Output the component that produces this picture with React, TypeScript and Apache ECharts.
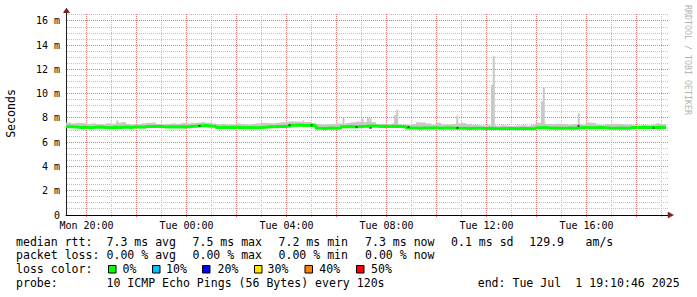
import React, { useEffect, useRef } from "react";
import * as echarts from "echarts";

// ---- time frame (hours of day, Mon 19:10:46 -> Tue 19:10:46) ----
const START_HOUR = 19 + 10 / 60 + 46 / 3600;
const END_HOUR = START_HOUR + 24;
const SAMPLE_HOURS = 0.2; // 12-minute samples

// median rtt per sample (ms)
const medianMs = [
  7.28, 7.25,
  7.22, 7.24, 7.20, 7.23, 7.26, 7.22, 7.20, 7.24, 7.21, 7.25, 7.22,
  7.25, 7.26, 7.24,
  7.30, 7.29, 7.31,
  7.26, 7.28, 7.25, 7.27, 7.26, 7.29,
  7.32, 7.35, 7.38, 7.34, 7.30,
  7.22, 7.24, 7.21, 7.23, 7.22,
  7.20, 7.22, 7.19, 7.21, 7.24,
  7.28, 7.27, 7.29, 7.30, 7.33,
  7.40, 7.42, 7.38, 7.41, 7.36,
  7.16, 7.14, 7.17, 7.15, 7.18,
  7.27, 7.29, 7.26, 7.30, 7.31,
  7.34, 7.33,
  7.30, 7.31, 7.29, 7.32, 7.30, 7.28,
  7.18, 7.17, 7.16, 7.18, 7.17, 7.19, 7.16, 7.17, 7.18, 7.16,
  7.15, 7.16, 7.14, 7.15, 7.16, 7.14, 7.15,
  7.13, 7.12, 7.14, 7.13, 7.12, 7.13, 7.14, 7.12, 7.14,
  7.20, 7.21,
  7.16, 7.17, 7.15, 7.16, 7.17, 7.16,
  7.20, 7.21, 7.19, 7.20, 7.22, 7.20,
  7.16, 7.15, 7.17, 7.16, 7.15,
  7.22, 7.21, 7.23, 7.22, 7.21, 7.23, 7.22,
];

// top of the smoke (max ping) per sample (ms)
const smokeTopMs = [
  7.62, 7.55, 7.60, 7.58, 7.50, 7.55,
  7.50, 7.45, 7.55, 7.52, 7.60, 7.65,
  7.50, 7.45, 7.48, 7.55, 7.60, 7.62,
  7.50, 7.45, 7.50, 7.55, 7.52, 7.58,
  7.55, 7.60, 7.62, 7.65, 7.60, 7.55,
  7.50, 7.52, 7.45, 7.48, 7.55, 7.50,
  7.45, 7.50, 7.55, 7.60, 7.58, 7.55,
  7.60, 7.65, 7.70, 7.72, 7.70, 7.65,
  7.68, 7.60, 7.50, 7.45, 7.48, 7.50,
  7.55, 7.50, 7.60, 7.65, 7.70, 7.65,
  7.70, 7.65,
  7.50, 7.52, 7.48, 7.55, 7.50, 7.45,
  7.45, 7.50, 7.65, 7.62, 7.55, 7.45, 7.60, 7.45, 7.47, 7.50,
  7.55, 7.58, 7.50, 7.42, 7.40, 7.38, 7.40,
  7.38, 7.36, 7.40, 7.37, 7.35, 7.38, 7.40, 7.36, 7.45,
  7.60, 7.55,
  7.50, 7.48, 7.52, 7.50, 7.45, 7.50,
  7.48, 7.45, 7.62, 7.60, 7.45, 7.42,
  7.50, 7.52, 7.50, 7.48, 7.45,
  7.42, 7.40, 7.43, 7.40, 7.45, 7.55, 7.50,
];

// narrow smoke spikes (hour, top ms)
const spikeHours = [21.23, 28.2, 28.67, 30.28, 31.04, 31.26, 31.36, 32.34, 32.4, 32.43, 34.83, 36.22, 36.26, 36.29, 38.22, 38.26, 38.29, 39.69];
const spikeTopMs = [7.8, 7.72, 7.8, 8.0, 7.95, 8.0, 8.0, 8.22, 8.22, 8.69, 8.2, 10.72, 10.72, 13.1, 9.35, 9.35, 10.5, 8.39];

// dark smoke specks (hour, ms)
const darkHours = [24.52, 28.12, 29.0, 30.8, 31.36, 32.88, 34.84, 39.68, 42.68];
const darkMs = [7.34, 7.42, 7.4, 7.26, 7.18, 7.26, 7.18, 7.35, 7.18];

// axes
const xTickHours = [20, 24, 28, 32, 36, 40];
const xTickLabels = ["Mon 20:00", "Tue 00:00", "Tue 04:00", "Tue 08:00", "Tue 12:00", "Tue 16:00"];
const yTickValues = [0, 2, 4, 6, 8, 10, 12, 14, 16];
const yTickLabels = ["0", "2 m", "4 m", "6 m", "8 m", "10 m", "12 m", "14 m", "16 m"];
const Y_MAX = 16.74;
const X_AXIS_MAX = END_HOUR + 0.08;
const GRID_TOP_MS = 16.63;
const GRID_RIGHT_HOUR = END_HOUR + 0.1;

// legend texts
const rttLabel = "median rtt:";
const rttItems = ["7.3 ms avg", "7.5 ms max", "7.2 ms min", "7.3 ms now", "0.1 ms sd", "129.9", "am/s"];
const lossLabel = "packet loss:";
const lossItems = ["0.00 % avg", "0.00 % max", "0.00 % min", "0.00 % now"];
const colorLabel = "loss color:";
const lossPercents = ["0%", "10%", "20%", "30%", "40%", "50%"];
const probeLabel = "probe:";
const probeText = "10 ICMP Echo Pings (56 Bytes) every 120s";
const endText = ["end: Tue Jul", "1 19:10:46 2025"];
const watermark = "RRDTOOL / TOBI OETIKER";

// styles / layout
const LOSS_COLORS = ["#00ff00", "#00bfff", "#0000ff", "#ffe600", "#ff8000", "#ff0000"];
const MONO = '"DejaVu Sans Mono", monospace';
const LEG_FONT = `11.55px ${MONO}`;
const RTT_X = [106.5, 192.5, 278.5, 365, 451, 529.3, 585.5];
const LOSS_X = [106.5, 192.5, 278.5, 365];
const BOX_X = [108.5, 152.5, 202.5, 254.5, 305, 356.5];
const PCT_X = [122.6, 166, 217.6, 267.6, 319.3, 371];
const LINE_Y = [241.5, 255.2, 269, 282.8];
const MINOR_COLOR = "#c2c2c2";
const MAJOR_COLOR = "#e87878";
const ARROW_COLOR = "#7f1f1f";

export default function App() {
  const ref = useRef<HTMLDivElement>(null);
  useEffect(() => {
    if (!ref.current) return;
    const chart = echarts.init(ref.current, undefined, { renderer: "svg" });

    const smokeData = medianMs.map((m, i) => [START_HOUR + i * SAMPLE_HOURS, m, smokeTopMs[i]]);
    const lineData = medianMs.map((m, i) => [START_HOUR + i * SAMPLE_HOURS, m]);
    lineData.push([END_HOUR, medianMs[medianMs.length - 1]]);
    const spikeData = spikeHours.map((h, i) => [h, spikeTopMs[i]]);
    const darkData = darkHours.map((h, i) => [h, darkMs[i]]);

    chart.setOption({
      animation: false,
      backgroundColor: "#ffffff",
      grid: { left: 66, right: 29, top: 12, bottom: 82, containLabel: false },
      xAxis: {
        type: "value",
        min: START_HOUR,
        max: X_AXIS_MAX,
        splitLine: { show: false },
        axisTick: { show: false },
        axisLine: { show: true, onZero: false, lineStyle: { color: "#000", width: 1 } },
        axisLabel: {
          customValues: xTickHours,
          formatter: (v: number) => {
            const k = xTickHours.indexOf(Math.round(v));
            return k >= 0 ? xTickLabels[k] : "";
          },
          fontFamily: MONO,
          fontSize: 10,
          color: "#000",
          margin: 5,
        },
      },
      yAxis: {
        type: "value",
        min: 0,
        max: Y_MAX,
        interval: 2,
        splitLine: { show: false },
        axisTick: { show: false },
        axisLine: { show: true, onZero: false, lineStyle: { color: "#1f1f1f", width: 1 } },
        axisLabel: {
          customValues: yTickValues,
          formatter: (v: number) => {
            const k = yTickValues.indexOf(Math.round(v * 100) / 100);
            return k >= 0 ? yTickLabels[k] : "";
          },
          fontFamily: MONO,
          fontSize: 10,
          color: "#000",
          margin: 6,
        },
      },
      series: [
        {
          type: "custom",
          name: "smoke",
          silent: true,
          z: 2,
          data: smokeData,
          encode: { x: 0, y: [1, 2] },
          renderItem: (params: any, api: any) => {
            const t = api.value(0);
            const p0 = api.coord([t, api.value(1)]);
            const p1 = api.coord([t + SAMPLE_HOURS, api.value(2)]);
            return {
              type: "rect",
              shape: { x: p0[0], y: p1[1], width: p1[0] - p0[0], height: p0[1] - p1[1] },
              style: { fill: "#c8c8c8" },
            };
          },
        },
        {
          type: "custom",
          name: "spikes",
          silent: true,
          z: 2,
          data: spikeData,
          encode: { x: 0, y: 1 },
          renderItem: (params: any, api: any) => {
            const top = api.coord([api.value(0), api.value(1)]);
            const base = api.coord([api.value(0), 7.2]);
            return {
              type: "rect",
              shape: { x: top[0] - 1, y: top[1], width: 2, height: base[1] - top[1] },
              style: { fill: "#c8c8c8" },
            };
          },
        },
        {
          type: "line",
          name: "median",
          data: lineData,
          step: "end",
          symbol: "none",
          silent: true,
          z: 3,
          lineStyle: { color: "#00ff00", width: 3 },
        },
        {
          type: "scatter",
          name: "dark",
          data: darkData,
          symbol: "rect",
          symbolSize: [2, 2],
          silent: true,
          z: 4,
          itemStyle: { color: "#222" },
        },
      ],
    });

    // everything that depends on pixel positions goes through the chart's scales
    const px = (x: number, y: number) => chart.convertToPixel({ xAxisIndex: 0, yAxisIndex: 0 }, [x, y]) as number[];
    const crisp = (v: number) => Math.round(v - 0.5) + 0.5;
    const graphic: any[] = [];

    const origin = px(START_HOUR, 0);
    const x0 = origin[0];
    const y0 = origin[1];
    const x1 = px(GRID_RIGHT_HOUR, 0)[0];
    const yTop = px(START_HOUR, GRID_TOP_MS)[1];
    const yPerMs = (y0 - px(START_HOUR, 16)[1]) / 16;
    const yAxisTop = y0 - Y_MAX * yPerMs;

    const gridLine = (ax: number, ay: number, bx: number, by: number, major: boolean) =>
      graphic.push({
        type: "line",
        silent: true,
        z: major ? -1 : -2,
        shape: { x1: ax, y1: ay, x2: bx, y2: by },
        style: { stroke: major ? MAJOR_COLOR : MINOR_COLOR, lineWidth: 1, lineDash: [1, 1] },
      });
    for (let k = 1; k * 0.5 < Y_MAX - 0.1; k++) {
      const y = crisp(px(START_HOUR, k * 0.5)[1]);
      gridLine(Math.round(x0) + 1, y, x1, y, k % 4 === 0);
    }
    for (let h = 20; h < END_HOUR; h += 1) {
      const x = crisp(px(h, 0)[0]);
      gridLine(x, y0 + 2, x, yTop, h % 2 === 0);
    }

    const txt = (text: string, x: number, y: number, extra: any = {}) =>
      graphic.push({
        type: "text",
        x,
        y,
        silent: true,
        ...extra,
        style: { text, fill: "#000", font: LEG_FONT, align: "left", verticalAlign: "middle", ...(extra.style || {}) },
      });
    txt(rttLabel, 16, LINE_Y[0]);
    rttItems.forEach((t, i) => txt(t, RTT_X[i], LINE_Y[0]));
    txt(lossLabel, 16, LINE_Y[1]);
    lossItems.forEach((t, i) => txt(t, LOSS_X[i], LINE_Y[1]));
    txt(colorLabel, 16, LINE_Y[2]);
    lossPercents.forEach((t, i) => {
      graphic.push({
        type: "rect",
        silent: true,
        shape: { x: BOX_X[i], y: LINE_Y[2] - 3.5, width: 7.5, height: 7.5 },
        style: { fill: LOSS_COLORS[i], stroke: "#000", lineWidth: 1 },
      });
      txt(t, PCT_X[i], LINE_Y[2]);
    });
    txt(probeLabel, 16, LINE_Y[3]);
    txt(probeText, 106.5, LINE_Y[3]);
    txt(endText[0], 477.7, LINE_Y[3]);
    txt(endText[1], 575.3, LINE_Y[3]);
    txt("Seconds", 11, 113.5, { rotation: Math.PI / 2, style: { align: "center" } });
    txt(watermark, 687.7, 60, {
      rotation: -Math.PI / 2,
      style: { align: "center", fill: "#b4b4b4", font: `8.3px ${MONO}` },
    });

    // y-axis arrow head: stacked short rows (tip at top)
    const ax = Math.round(x0) + 0.5;
    const rowHalf = [0.5, 1.2, 1.9, 2.6, 3.2];
    rowHalf.forEach((hw, r) => {
      const y = Math.round(yAxisTop) - 3.5 + r;
      graphic.push({
        type: "line",
        silent: true,
        z: 100,
        shape: { x1: ax - hw, y1: y, x2: ax + hw, y2: y },
        style: { stroke: ARROW_COLOR, lineWidth: 1 },
      });
    });
    const right = px(X_AXIS_MAX, 0);
    graphic.push({
      type: "polygon",
      silent: true,
      z: 100,
      shape: { points: [[right[0] + 5.5, right[1]], [right[0], right[1] - 3], [right[0], right[1] + 3]] },
      style: { fill: ARROW_COLOR, stroke: ARROW_COLOR, lineWidth: 0.5 },
    });

    chart.setOption({ graphic: { elements: graphic } });

    return () => chart.dispose();
  }, []);
  return <div ref={ref} style={{ position: "absolute", left: 0, top: 0, width: 697, height: 297 }} />;
}
